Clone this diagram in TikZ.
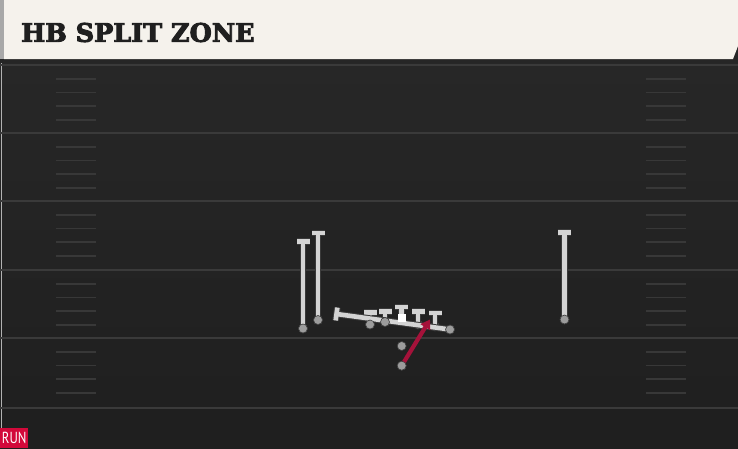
\documentclass[tikz,border=0pt]{standalone}
\usepackage{fontspec}
\newfontfamily\titlefont[FakeBold=3.5]{DejaVu Serif Bold}
\newfontfamily\runfont{PT Sans}
\usetikzlibrary{calc,arrows.meta}
\definecolor{cream}{HTML}{F5F2EC}
\definecolor{fieldtop}{HTML}{272727}
\definecolor{fieldbot}{HTML}{1F1F1F}
\definecolor{yardline}{HTML}{3A3A3A}
\definecolor{hashc}{HTML}{383838}
\definecolor{routegray}{HTML}{D4D4D4}
\definecolor{edgegray}{HTML}{3A3A3A}
\definecolor{dotgray}{HTML}{9C9C9C}
\definecolor{runred}{HTML}{A5123A}
\definecolor{tagred}{HTML}{D2093A}
\definecolor{stripgray}{HTML}{A8A8A8}
\newcommand\tstem[2]{%
  \draw[halo] (#1.center) -- (#2);
  \draw[halo] ($(#2)!6.5pt!90:(#1)$) -- ($(#2)!6.5pt!-90:(#1)$);
  \draw[stem] (#1.center) -- (#2);
  \draw[stem] ($(#2)!6.5pt!90:(#1)$) -- ($(#2)!6.5pt!-90:(#1)$);
}
\begin{document}
\begin{tikzpicture}[x=1pt,y=-1pt,
  halo/.style={draw=edgegray,line width=6.6pt},
  stem/.style={draw=routegray,line width=4.6pt},
  yard/.style={draw=yardline,line width=2pt},
  hashmark/.style={draw=hashc,line width=1.6pt},
  player/.style={circle,fill=dotgray,draw=edgegray,line width=0.6pt,inner sep=0pt,minimum size=9pt},
  center/.style={rectangle,fill=white,inner sep=0pt,minimum size=8pt},
  runroute/.style={draw=runred,line width=4.2pt,-{Triangle[length=9pt,width=11pt]}},
]
\useasboundingbox (0,0) rectangle (738,448);
% field
\shade[top color=fieldtop,bottom color=fieldbot] (0,59) rectangle (738,448);
\fill[fieldbot] (0,409) rectangle (738,448);
\draw[black!30,line width=0.6pt] (1.5,60) -- (1.5,448);
% yard lines
\foreach \y in {65,133,201,270,338,408} \draw[yard] (0,\y) -- (738,\y);
% hash marks
\foreach \b in {65,133,201,270,338} {
  \foreach \k in {1,2,3,4} {
    \draw[hashmark] (56,\b+\k*13.7) -- (96,\b+\k*13.7);
    \draw[hashmark] (646,\b+\k*13.7) -- (686,\b+\k*13.7);
  }
}
% header
\fill[black!85] (0,58) rectangle (738,63);
\fill[black!85] (728,40) rectangle (738,59);
\fill[cream] (4,0) -- (738,0) -- (738,46) -- (733,59) -- (4,59) -- cycle;
\fill[stripgray] (0,0) rectangle (4,59);
\node[anchor=west,inner sep=0pt,text=black!88] (title) at (21,32.5)
  {\titlefont\fontsize{25.5}{25.5}\selectfont HB SPLIT ZONE};
% RUN tag
\node[anchor=south west,fill=tagred,text=white,inner sep=0pt,minimum width=28pt,minimum height=20pt] (tag) at (0,448)
  {\runfont\fontsize{16}{16}\selectfont\scalebox{0.8}[1]{RUN}};
% receivers
\node[player] (wra) at (303,328.5) {};
\node[player] (wrb) at (318,320) {};
\node[player] (wrc) at (564.5,319.5) {};
\coordinate (wraT) at (303,241.5);
\coordinate (wrbT) at (318,233);
\coordinate (wrcT) at (564.5,232.5);
\tstem{wra}{wraT}
\tstem{wrb}{wrbT}
\tstem{wrc}{wrcT}
\node[player] at (wra) {};
\node[player] at (wrb) {};
\node[player] at (wrc) {};
% offensive line
\node[player] (lt) at (370,324.5) {};
\node[player] (lg) at (385,322) {};
\node[player] (rg) at (418,324.5) {};
\node[player] (rt) at (435,326.5) {};
\node[center] (c) at (401.7,318.3) {};
\coordinate (ltT) at (370,312.5);
\coordinate (lgT) at (385,311.5);
\coordinate (cT) at (401.7,307);
\coordinate (rgT) at (418,311.5);
\coordinate (rtT) at (435,313);
\tstem{lt}{ltT}
\tstem{lg}{lgT}
\tstem{c}{cT}
\tstem{rg}{rgT}
\tstem{rt}{rtT}
% zone line
\node[player] (zend) at (450,329.5) {};
\coordinate (zstart) at (336.5,314);
\tstem{zend}{zstart}
\node[player] at (zend) {};
\node[player] at (lt) {};
\node[player] at (lg) {};
\node[center] at (c) {};
% backs
\node[player] (qb) at (401.7,346) {};
\node[player] (rb) at (401.7,365.7) {};
\coordinate (rbT) at (430,319.5);
\draw[runroute] (rb.center) -- (rbT);
\node[player] at (rb) {};
\end{tikzpicture}
\end{document}
